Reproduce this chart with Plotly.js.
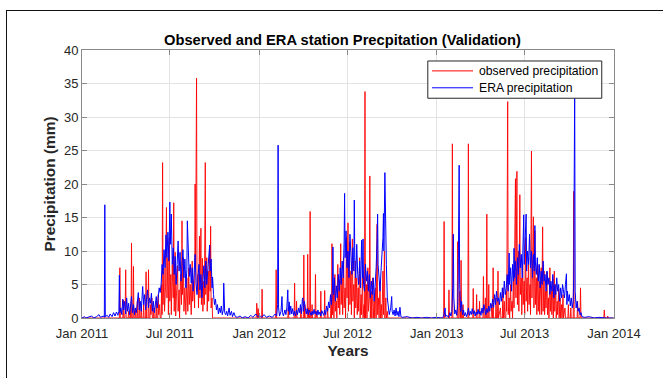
<!DOCTYPE html>
<html>
<head>
<meta charset="utf-8">
<script src="https://cdn.plot.ly/plotly-3.0.1.min.js"></script>
<style>
  html, body { margin: 0; padding: 0; background: #fff; }
  #frame { position: absolute; left: 6px; top: 10px; width: 680px; height: 400px;
           border-left: 1.5px solid #111; border-top: 1.5px solid #111; pointer-events: none; z-index: 5; }
  #chart { position: absolute; left: 0; top: 0; width: 663px; height: 378px; }
</style>
</head>
<body>
<div id="chart"></div>
<div id="frame"></div>
<script>
// ---- data (day offset from 2011-01-01, precipitation mm) ----
const startDate = '2011-01-01';
const tickDates = ['2011-01-01','2011-07-01','2012-01-01','2012-07-01','2013-01-01','2013-07-01','2014-01-01'];
const tickLabels = ['Jan 2011','Jul 2011','Jan 2012','Jul 2012','Jan 2013','Jul 2013','Jan 2014'];
const seriesNames = ['observed precipitation', 'ERA precipitation'];

const observed = [
 [0,0],[77,0],[78,7.5],[79,0],[84,0],[85,2.7],[86,0],[88,0],[89,1.5],[90,7.2],[91,0],[95,0],[96,1.0],[97,0],
 [99,0],[100,2.0],[101,0],[102,11.2],[103,0],[105,0],[106,7.7],[107,0],[109,0],[110,1.5],[111,0],[113,0],[114,2.5],[115,0],
 [117,0],[118,3.0],[119,0],[121,0],[122,1.8],[123,0],[126,0],[127,2.2],[128,0],[131,0],[132,6.9],[133,0],[136,0],[137,7.2],[138,0],
 [140,0],[141,2.0],[142,0.5],[144,3.0],[145,0],[147,0],[148,1.5],[149,0],[152,0],[153,2.5],[154,0],[156,0],[157,3.5],[158,0.5],
 [160,2.0],[161,0],[163,0],[164,5.0],[165,0.5],[166,23.2],[167,2.0],[169,7.5],[170,1.0],[172,4.5],[174,16.5],[175,3.0],[177,9.0],
 [178,0.5],[180,12.0],[181,2.5],[183,6.5],[184,0.5],[186,8.0],[188,3.0],[189,17.2],[190,1.0],[192,9.8],[193,0.3],[195,5.5],
 [197,7.8],[198,1.0],[200,4.2],[201,0],[203,6.5],[205,2.0],[206,14.5],[207,3.5],[209,9.0],[210,1.0],[212,4.5],[214,0.5],
 [216,6.0],[218,1.0],[220,7.5],[221,2.0],[223,5.0],[225,0.5],[227,8.5],[228,2.5],[230,5.5],[232,1.5],[233,20.0],[234,8.0],
 [235,16.0],[236,35.8],[237,4.0],[239,6.5],[240,1.5],[242,12.2],[243,3.0],[245,13.4],[246,2.0],[248,8.9],[249,1.0],[251,5.5],
 [252,2.0],[254,23.2],[255,3.5],[257,9.0],[258,1.0],[260,7.0],[261,2.5],[263,10.5],[264,4.0],[265,13.7],[266,1.5],[268,3.0],
 [269,0],[359,0],[360,2.2],[361,0],[362,0],[363,1.4],[364,0],[370,0],[371,4.3],[372,0],[399,0],[400,7.2],[401,0],
 [424,0],[425,1.5],[426,0],[437,0],[438,5.2],[439,0],[441,0],[442,2.5],[443,0],[450,0],[451,1.5],[452,0],[456,0],[457,9.4],
 [458,0],[459,2.0],[460,0],[464,0],[465,9.5],[466,0],[467,1.5],[468,0],[469,0],[470,15.9],[471,0],[473,0],[474,2.0],[475,0],
 [480,0],[481,6.5],[482,0],[484,1.0],[485,0],[491,0],[492,4.0],[493,0],[499,0],[500,4.1],[501,0],[505,0],[506,1.5],[507,0],
 [512,0],[513,3.0],[514,0],[515,11.1],[516,0.5],[518,4.0],[519,0],[521,6.5],[522,1.0],[524,2.5],[525,0],[527,8.0],[528,1.5],
 [530,5.5],[531,0.5],[533,11.1],[534,2.0],[536,6.0],[537,0.5],[539,9.0],[540,1.5],[542,4.5],[543,0],[545,12.0],[546,3.0],
 [548,14.2],[549,1.0],[551,11.4],[552,2.0],[554,7.0],[555,0.5],[557,11.8],[558,2.5],[560,5.0],[561,0],[563,8.5],[564,1.5],
 [566,6.0],[567,0.5],[569,4.5],[570,1.0],[572,9.0],[573,0],[575,3.5],[576,0.5],[578,6.5],[579,0],[581,2.0],[582,0],[583,33.8],
 [584,0],[586,5.0],[587,0],[589,7.5],[590,1.0],[592,3.0],[593,21.2],[594,0],[596,4.0],[597,0],[599,6.0],[600,0],[602,2.5],
 [603,0],[605,4.5],[606,0],[608,14.0],[609,0.5],[611,3.0],[612,0],[614,5.5],[615,0],[617,2.0],[618,0],[620,7.0],[621,0.5],
 [623,10.0],[624,0],[626,3.0],[627,0],[629,1.0],[630,0],
 [745,0],[746,14.4],[747,0],[755,0],[756,4.2],[757,0],[762,0],[763,26.0],[764,0],[773,0],[774,11.4],[775,0],[777,0],[778,4.0],
 [779,0],[780,0],[781,8.6],[782,0],[784,0],[785,2.0],[786,0],[795,0],[796,26.0],[797,0],[805,0],[806,4.4],[807,0],[812,0],
 [813,3.5],[814,0],[818,0],[819,2.5],[820,0],[826,0],[827,6.2],[828,0],[830,0],[831,3.0],[832,0],[833,0],[834,15.5],[835,0],
 [837,0],[838,5.0],[839,0],[843,0],[844,2.0],[845,0],[846,0],[847,7.5],[848,0],[852,0],[853,3.0],[854,0],[856,0],[857,7.0],
 [858,0],[862,1.5],[863,0],[866,0],[867,4.5],[868,0],[870,2.5],[871,0],[873,0],[874,4.0],[875,1.0],[877,32.3],[878,0.5],
 [880,3.0],[881,0],[883,5.0],[884,1.0],[886,2.5],[887,0],[889,7.0],[890,1.5],[893,20.8],[894,3.0],[896,21.9],[897,2.0],
 [899,10.0],[900,1.0],[902,18.4],[903,3.5],[905,6.0],[906,0.5],[908,8.0],[909,2.0],[911,5.5],[912,0.5],[914,12.0],[915,2.5],
 [917,6.0],[918,1.0],[920,9.0],[921,2.0],[923,5.0],[924,0.5],[926,24.9],[927,3.0],[929,11.0],[930,15.1],[931,1.5],[933,13.0],
 [934,2.0],[936,6.0],[937,0.5],[939,8.0],[940,1.0],[942,5.5],[943,0.5],[946,7.5],[947,0.5],[949,13.6],[950,1.0],[952,7.0],
 [953,0.5],[955,4.0],[956,1.5],[958,6.9],[959,0.5],[961,3.0],[962,0],[964,7.5],[965,1.0],[967,4.0],[968,0.5],[970,6.0],
 [971,0],[973,7.0],[974,1.0],[976,5.0],[977,0],[979,2.5],[980,0.5],[982,4.4],[983,0],[985,3.0],[986,0],[988,2.0],[989,0],
 [991,3.5],[992,0],[995,1.5],[996,0],[1001,0],[1002,2.0],[1003,0],[1006,0],[1007,1.5],[1008,0],[1012,0],[1013,18.9],[1014,0],
 [1020,0],[1021,2.5],[1022,0],[1026,0],[1027,4.5],[1028,0],[1075,0],[1076,1.2],[1077,0],[1082,0],[1083,0.3],[1084,0],[1095,0]
];

const era = [
 [0,0],[5,0.2],[8,0],[14,0.1],[20,0.3],[24,0],[30,0.2],[35,0.5],[38,0.1],[44,0.3],[46,0.1],[47,16.9],[48,0.2],[52,0.4],
 [55,0.1],[58,0.6],[62,0.2],[65,0.8],[68,0.3],[71,0.9],[74,0.4],[76,1.0],[77,6.4],[78,0.8],[80,1.5],[82,0.5],[84,2.8],
 [86,1.2],[88,2.5],[90,0.6],[92,3.0],[94,1.0],[96,2.2],[98,0.5],[100,1.8],[102,3.2],[104,0.8],[106,2.0],[108,0.5],[110,1.5],
 [112,0.8],[114,2.6],[116,3.8],[118,1.2],[120,2.5],[122,1.0],[124,3.2],[125,4.7],[127,2.0],[129,3.5],[131,1.2],[133,2.8],
 [135,4.2],[137,1.5],[139,3.0],[141,2.2],[143,3.7],[145,1.0],[147,2.5],[149,0.8],[151,2.0],[153,3.2],[155,1.5],[157,2.8],
 [159,4.5],[161,3.8],[163,5.0],[165,8.0],[167,6.5],[169,10.2],[171,7.5],[173,12.4],[175,9.0],[177,12.8],[179,8.5],[181,17.3],
 [182,11.0],[184,15.5],[186,8.0],[188,10.5],[190,6.5],[192,9.2],[194,5.0],[196,8.0],[198,11.5],[200,7.0],[202,9.8],[204,5.5],
 [206,8.6],[208,10.2],[210,6.0],[212,8.8],[214,4.5],[216,7.2],[217,14.5],[219,9.0],[221,6.2],[223,8.0],[225,5.2],[227,7.5],
 [229,4.0],[231,6.8],[233,9.5],[235,5.0],[237,3.5],[239,6.2],[241,8.0],[243,4.2],[245,6.5],[247,3.0],[249,5.5],[251,7.8],
 [253,4.5],[255,8.5],[257,5.0],[259,6.8],[261,9.5],[263,10.9],[264,7.0],[266,8.8],[268,4.5],[269,6.1],[271,3.5],[273,2.0],
 [275,2.8],[277,1.2],[279,2.0],[281,0.6],[283,1.5],[285,0.8],[287,1.8],[289,0.5],[291,1.2],[292,5.2],[294,0.8],[296,0.5],
 [298,1.0],[300,0.3],[303,1.5],[305,0.4],[308,1.0],[310,0.2],[313,0.8],[316,0.2],[320,0.1],[326,0.3],[330,0],[336,0.2],
 [342,0],[348,0.4],[352,0.1],[358,0.6],[362,0.2],[366,0.4],[370,0.1],[375,0.5],[380,0.1],[386,0.3],[392,0.1],[398,0.6],
 [401,0.3],[403,2.0],[404,25.8],[405,1.5],[407,0.3],[410,1.0],[412,3.2],[413,0.8],[415,0.3],[418,1.2],[420,0.5],[422,1.5],
 [424,4.2],[425,1.0],[427,2.4],[428,0.5],[430,1.8],[432,0.6],[434,1.4],[436,0.4],[438,1.0],[440,0.3],[442,1.2],[444,0.5],
 [446,1.5],[448,0.8],[450,2.0],[452,0.6],[454,2.8],[455,3.0],[456,1.0],[458,2.5],[460,1.5],[462,0.6],[464,1.4],[466,0.5],
 [468,1.2],[470,0.8],[472,0.4],[474,1.0],[476,0.5],[478,1.3],[480,0.6],[482,1.0],[484,0.4],[486,1.2],[488,0.5],[490,0.9],
 [492,0.3],[494,1.1],[496,0.6],[498,0.4],[500,1.2],[502,0.5],[504,1.8],[506,1.0],[508,2.4],[510,1.5],[512,3.5],[514,2.0],
 [516,4.5],[517,10.6],[518,3.5],[520,6.0],[522,2.5],[524,4.8],[526,3.0],[528,6.5],[530,4.0],[532,7.5],[534,5.0],[536,8.5],
 [538,6.0],[540,11.4],[541,18.6],[542,9.0],[544,13.0],[546,7.5],[548,10.0],[550,6.0],[552,12.5],[554,8.0],[556,6.5],
 [558,10.5],[560,7.0],[561,17.6],[562,9.0],[564,6.0],[566,11.0],[568,6.5],[570,5.0],[572,8.5],[574,4.5],[576,11.6],[578,6.0],
 [579,11.8],[580,5.0],[582,4.0],[584,8.0],[586,5.5],[588,7.0],[590,4.0],[592,6.5],[594,3.0],[596,5.5],[598,3.5],[600,6.0],
 [602,2.5],[604,4.5],[606,7.5],[608,12.0],[609,15.5],[610,8.0],[612,6.0],[614,4.0],[616,7.0],[618,9.5],[620,12.0],[621,15.6],
 [622,10.0],[624,21.7],[625,14.0],[627,8.0],[629,3.0],[631,1.0],[633,0.5],[636,1.5],[638,3.2],[639,1.0],[641,0.5],[643,1.2],
 [645,0.3],[647,1.5],[649,0.4],[651,1.0],[653,0.2],[655,1.6],[657,0.2],[660,0.1],[670,0.2],[680,0],[690,0.1],[700,0],
 [710,0.1],[720,0],[730,0.1],[740,0],[745,0.2],[748,1.5],[749,0.2],[752,0.4],[755,0.1],[758,0.8],[760,0.3],[762,1.0],
 [764,5.0],[765,12.5],[766,3.0],[768,0.6],[770,1.2],[772,0.4],[774,2.0],[775,6.0],[777,22.8],[778,5.0],[780,1.0],[782,2.5],
 [784,0.5],[786,1.2],[788,0.3],[790,0.8],[792,0.2],[794,0.6],[796,1.5],[798,0.4],[800,1.0],[802,0.5],[804,1.4],[806,0.6],
 [808,1.1],[810,0.3],[812,0.9],[814,0.5],[816,1.3],[818,0.6],[820,1.0],[822,0.4],[824,1.5],[826,0.7],[828,2.0],[830,1.2],
 [832,0.5],[834,1.4],[836,0.8],[838,1.8],[840,1.0],[842,2.2],[844,1.5],[846,2.8],[848,1.6],[850,3.5],[852,2.0],[854,4.0],
 [856,2.5],[858,3.0],[860,2.0],[862,3.8],[864,2.5],[866,4.5],[868,3.0],[870,5.5],[872,3.5],[874,4.5],[876,6.5],[878,4.0],
 [880,9.7],[881,5.0],[883,7.5],[885,4.0],[887,8.0],[889,5.5],[890,10.4],[891,6.0],[893,8.5],[895,5.0],[897,9.0],[899,6.5],
 [901,11.0],[903,7.5],[905,9.5],[907,6.0],[909,12.0],[910,15.4],[911,8.0],[913,11.5],[915,15.5],[916,7.0],[918,10.0],
 [920,8.0],[922,12.5],[924,7.5],[926,10.0],[928,6.0],[930,9.5],[932,7.0],[933,13.8],[934,8.5],[936,6.5],[938,9.0],[940,5.5],
 [942,8.0],[944,4.5],[946,7.0],[948,5.0],[950,8.5],[952,5.5],[954,6.5],[956,4.0],[958,7.0],[960,5.0],[962,6.0],[964,3.5],
 [966,5.5],[968,4.0],[970,6.5],[972,3.0],[974,5.0],[976,3.5],[978,6.0],[980,4.0],[982,5.0],[984,2.5],[986,4.5],[988,3.0],
 [990,5.0],[992,4.0],[994,3.0],[996,5.0],[998,6.6],[999,2.0],[1000,4.0],[1002,2.5],[1004,3.5],[1006,1.8],[1008,3.0],
 [1010,1.5],[1012,2.5],[1013,6.0],[1014,20.0],[1015,34.5],[1016,4.0],[1018,1.5],[1020,2.5],[1022,1.0],[1024,1.5],[1026,0.5],
 [1028,0.8],[1030,0.2],[1035,0.1],[1045,0.2],[1055,0],[1065,0.1],[1080,0],[1095,0]
];

// ---- build traces ----
const t0 = Date.parse(startDate + 'T00:00:00Z');
function toDate(d) { return new Date(t0 + d * 86400000).toISOString().slice(0, 10); }

const traces = [
  { x: observed.map(p => toDate(p[0])), y: observed.map(p => p[1]), type: 'scatter', mode: 'lines',
    name: seriesNames[0], line: { color: 'rgb(255,0,0)', width: 0.9 }, showlegend: false, hoverinfo: 'skip' },
  { x: era.map(p => toDate(p[0])), y: era.map(p => p[1]), type: 'scatter', mode: 'lines',
    name: seriesNames[1], line: { color: 'rgb(0,0,255)', width: 1 }, showlegend: false, hoverinfo: 'skip' }
];

// ---- manual MATLAB-like legend (paper coordinates of the plot area) ----
const L = { x0: 0.650, x1: 0.977, y0: 0.820, y1: 0.959 };
const shapes = [
  { type: 'rect', xref: 'paper', yref: 'paper', x0: L.x0, x1: L.x1, y0: L.y0, y1: L.y1,
    fillcolor: '#ffffff', line: { color: '#262626', width: 1 }, layer: 'above' },
  { type: 'line', xref: 'paper', yref: 'paper', x0: 0.658, x1: 0.735, y0: 0.922, y1: 0.922,
    line: { color: 'rgb(255,0,0)', width: 1 }, layer: 'above' },
  { type: 'line', xref: 'paper', yref: 'paper', x0: 0.658, x1: 0.735, y0: 0.859, y1: 0.859,
    line: { color: 'rgb(0,0,255)', width: 1 }, layer: 'above' }
];
const annotations = [
  { xref: 'paper', yref: 'paper', x: 0.742, y: 0.922, xanchor: 'left', yanchor: 'middle', showarrow: false,
    text: seriesNames[0], font: { family: 'Arial, Liberation Sans, sans-serif', size: 12.2, color: '#000' } },
  { xref: 'paper', yref: 'paper', x: 0.742, y: 0.859, xanchor: 'left', yanchor: 'middle', showarrow: false,
    text: seriesNames[1], font: { family: 'Arial, Liberation Sans, sans-serif', size: 12.2, color: '#000' } }
];

const axisCommon = {
  showline: true, linecolor: '#8a8a8a', linewidth: 1, mirror: 'ticks',
  ticks: 'inside', ticklen: 5, tickcolor: '#8a8a8a', tickwidth: 1,
  showgrid: true, gridcolor: '#e3e3e3', gridwidth: 1, zeroline: false,
  tickfont: { family: 'Arial, Liberation Sans, sans-serif', size: 13, color: '#262626' }
};

const layout = {
  width: 663, height: 378,
  margin: { l: 82, r: 49, t: 50, b: 60, pad: 0 },
  paper_bgcolor: '#ffffff', plot_bgcolor: '#ffffff',
  showlegend: false,
  title: { text: '<b>Observed and ERA station Precpitation (Validation)</b>', x: 0.5166, xanchor: 'center',
           y: 0.895, yanchor: 'middle',
           font: { family: 'Arial, Liberation Sans, sans-serif', size: 14.7, color: '#000' } },
  xaxis: Object.assign({}, axisCommon, {
    type: 'date', range: [tickDates[0], tickDates[tickDates.length - 1]],
    tickmode: 'array', tickvals: tickDates, ticktext: tickLabels, ticklabelstandoff: 3,
    title: { text: '<b>Years</b>', standoff: 5,
             font: { family: 'Arial, Liberation Sans, sans-serif', size: 15.4, color: '#262626' } }
  }),
  yaxis: Object.assign({}, axisCommon, {
    range: [0, 40], tickmode: 'linear', tick0: 0, dtick: 5,
    title: { text: '<b>Precipitation (mm)</b>', standoff: 4,
             font: { family: 'Arial, Liberation Sans, sans-serif', size: 15.4, color: '#262626' } }
  }),
  shapes: shapes,
  annotations: annotations
};

Plotly.newPlot('chart', traces, layout, { displayModeBar: false, staticPlot: true });
</script>
</body>
</html>
